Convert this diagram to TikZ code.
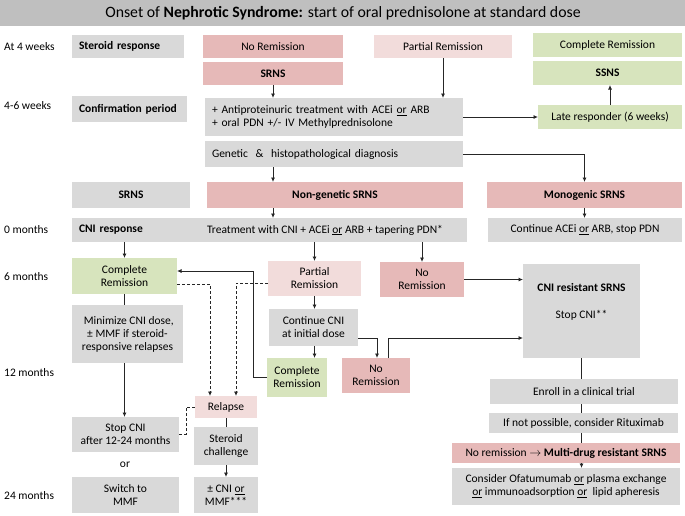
\documentclass[tikz,border=0pt]{standalone}
\usepackage{fontspec}
\setmainfont{Carlito}
\usetikzlibrary{arrows.meta}
\definecolor{gboxc}{HTML}{D9D9D9}
\definecolor{tbarc}{HTML}{BFBFBF}
\definecolor{rboxc}{HTML}{E6B9B8}
\definecolor{pboxc}{HTML}{F2DCDB}
\definecolor{vboxc}{HTML}{D7E4BD}
\newcommand\mybox[7]{%
  \node[#6, minimum width={#4pt-#2pt}, minimum height={#5pt-#3pt}] (#1) at ({(#2+#4)/2},{(#3+#5)/2}) {#7};}
\tikzset{
  bxbase/.style={rectangle, inner sep=0pt, outer sep=0pt, align=center, font=\fontsize{11.5}{13}\selectfont},
  gb/.style={bxbase, fill=gboxc},
  rb/.style={bxbase, fill=rboxc},
  pb/.style={bxbase, fill=pboxc},
  vb/.style={bxbase, fill=vboxc},
  tlabel/.style={anchor=west, inner sep=0pt, font=\fontsize{11.5}{13}\selectfont},
  plaintext/.style={inner sep=0pt, font=\fontsize{11.5}{13}\selectfont, align=center},
  conn/.style={draw=black!85, line width=0.8pt},
  arr/.style={conn, -{Latex[length=4.5pt,width=4pt]}},
  darr/.style={conn, dashed, dash pattern=on 3pt off 2pt, -{Latex[length=4.5pt,width=4pt]}},
  dln/.style={conn, dashed, dash pattern=on 3pt off 2pt}
}
\begin{document}
\begin{tikzpicture}[x=1pt,y=-1pt]
\useasboundingbox (0,0) rectangle (685,515);
\fill[white] (0,0) rectangle (685,515);
% title
\fill[tbarc] (0,0) rectangle (685,26);
\node[inner sep=0pt, font=\fontsize{15.8}{17}\selectfont] (title) at (343,13.5) {Onset of \textbf{Nephrotic Syndrome:} start of oral prednisolone at standard dose};
% time labels
\node[tlabel] (t1) at (4,47) {At 4 weeks};
\node[tlabel] (t2) at (4,106) {4-6 weeks};
\node[tlabel] (t3) at (4,230) {0 months};
\node[tlabel] (t4) at (4,277) {6 months};
\node[tlabel] (t5) at (4,373) {12 months};
\node[tlabel] (t6) at (4,496) {24 months};
% row 1
\mybox{sr}{72}{35}{184}{58}{gb,align=left,text width=98pt}{\textbf{Steroid response}}
\mybox{nr1}{203}{35}{343}{58}{rb}{No Remission}
\mybox{srns1}{203}{62}{343}{85}{rb}{\textbf{SRNS}}
\mybox{pr1}{374}{35}{512}{58}{pb}{Partial Remission}
\mybox{cr1}{533}{33}{682}{57}{vb}{Complete Remission}
\mybox{ssns}{533}{61}{682}{85}{vb}{\textbf{SSNS}}
% row 2
\mybox{cp}{72}{96}{187}{122}{gb,align=left,text width=101pt}{\textbf{Confirmation period}}
\mybox{tr}{205}{98}{463}{136}{gb,align=left,text width=244pt}{+ Antiproteinuric treatment with ACEi \underline{or} ARB\\+ oral PDN +/- IV Methylprednisolone}
\mybox{lr}{538}{105}{682}{129}{vb}{Late responder (6 weeks)}
\mybox{gd}{205}{141}{463}{167}{gb,align=left,text width=244pt}{Genetic \ \& \ histopathological diagnosis}
% row 3
\mybox{srns2}{72}{182}{190}{208}{gb}{\textbf{SRNS}}
\mybox{ng}{207}{182}{463}{208}{rb}{\textbf{Non-genetic SRNS}}
\mybox{mg}{487}{182}{682}{208}{rb}{\textbf{Monogenic SRNS}}
% row 4
\mybox{cni}{72}{218}{467}{242}{gb,align=left,text width=381pt}{\textbf{CNI response}}
\node[plaintext] (cnit) at (325,230) {Treatment with CNI + ACEi \underline{or} ARB + tapering PDN*};
\mybox{cont}{488}{218}{682}{242}{gb}{Continue ACEi \underline{or} ARB, stop PDN}
% 6 months
\mybox{cr2}{72}{258}{177}{294}{vb}{Complete\\Remission}
\mybox{pr2}{268}{261}{361}{296}{pb}{Partial\\Remission}
\mybox{nr2}{380}{262}{464}{297}{rb}{No\\Remission}
\mybox{cnir}{523}{264}{640}{358}{gb}{}
\node[plaintext] (cnirt) at (581.5,301.5) {\textbf{CNI resistant SRNS}\\[14pt]Stop CNI**};
\mybox{min}{72}{305}{183}{363}{gb}{\ Minimize CNI dose,\\± MMF if steroid-\\responsive relapses}
\mybox{ccni}{269}{309}{358}{346}{gb}{Continue CNI\\at initial dose}
% 12 months
\mybox{cr3}{267}{358}{327}{397}{vb}{Complete\\Remission}
\mybox{nr3}{342}{358}{410}{393}{rb}{No\\Remission}
\mybox{rel}{195}{396}{257}{418}{pb}{Relapse}
\mybox{stop}{72}{417}{179}{452}{gb}{Stop CNI\\after 12-24 months}
\node[plaintext] (ortext) at (125,465) {or};
\mybox{mmf}{72}{477}{179}{513}{gb}{Switch to\\MMF}
\mybox{sc}{194}{427}{258}{465}{gb}{Steroid\\challenge}
\mybox{cm}{194}{477}{258}{513}{gb}{± CNI \underline{or}\\MMF***}
% right column
\mybox{enr}{490}{379}{678}{404}{gb}{Enroll in a clinical trial}
\mybox{inp}{489}{413}{678}{433}{gb}{If not possible, consider Rituximab}
\mybox{mdr}{452}{443}{680}{463}{rb}{No remission $\rightarrow$ \textbf{Multi-drug resistant SRNS}}
\mybox{ofa}{452}{468}{680}{505}{gb}{Consider Ofatumumab \underline{or} plasma exchange\\\underline{or} immunoadsorption \underline{or}\ \ lipid apheresis}
% helper coordinates
\coordinate (j1) at (377,338);
\coordinate (j2) at (388,338);
\coordinate (k1) at (253,271);
\coordinate (d1) at (210,284);
\coordinate (d2) at (236,283);
\coordinate (d3) at (186,434);
% connectors
\draw[arr] (srns1.south) -- (srns1.south |- tr.north);
\draw[arr] (pr1.south) -- (pr1.south |- tr.north);
\draw[arr] (tr.east |- lr.west) -- (lr.west);
\draw[arr] (lr.north) -- (lr.north |- ssns.south);
\draw[arr] (srns1.south |- gd.south) -- (srns1.south |- ng.north);
\draw[arr] (gd.east) -| (mg.north);
\draw[arr] (srns1.south |- ng.south) -- (srns1.south |- cni.north);
\draw[arr] (mg.south) -- (mg.south |- cont.north);
\draw[arr] (cr2.north |- cni.south) -- (cr2.north);
\draw[arr] (pr2.north |- cni.south) -- (pr2.north);
\draw[arr] (nr2.north |- cni.south) -- (nr2.north);
\draw[arr] (nr2.east) -- (nr2.east -| cnir.west);
\draw[conn] (cr2.south) -- (cr2.south |- min.north);
\draw[arr] (cr2.south |- min.south) -- (cr2.south |- stop.north);
\draw[arr] (pr2.south) -- (pr2.south |- ccni.north);
\draw[arr] (pr2.south |- ccni.south) -- (pr2.south |- cr3.north);
\draw[arr] (ccni.east |- j1) -| (j1 |- nr3.north);
\draw[arr] (j2 |- nr3.north) |- (cnir.west |- j2);
\draw[arr] (cr3.west) -| (k1) -- (cr2.east |- k1);
\draw[darr] (cr2.east |- d1) -| (d1 |- rel.north);
\draw[darr] (pr2.west |- d2) -| (d2 |- rel.north);
\draw[dln] (stop.east |- d3) -| (d3 |- rel.west) -- (rel.west);
\draw[conn] (rel.south) -- (rel.south |- sc.north);
\draw[arr] (sc.south) -- (sc.south |- cm.north);
\draw[conn] (cnir.south) -- (cnir.south |- enr.north);
\draw[conn] (cnir.south |- enr.south) -- (cnir.south |- inp.north);
\draw[conn] (cnir.south |- inp.south) -- (cnir.south |- mdr.north);
\draw[arr] (cnir.south |- mdr.south) -- (cnir.south |- ofa.north);
\end{tikzpicture}
\end{document}
